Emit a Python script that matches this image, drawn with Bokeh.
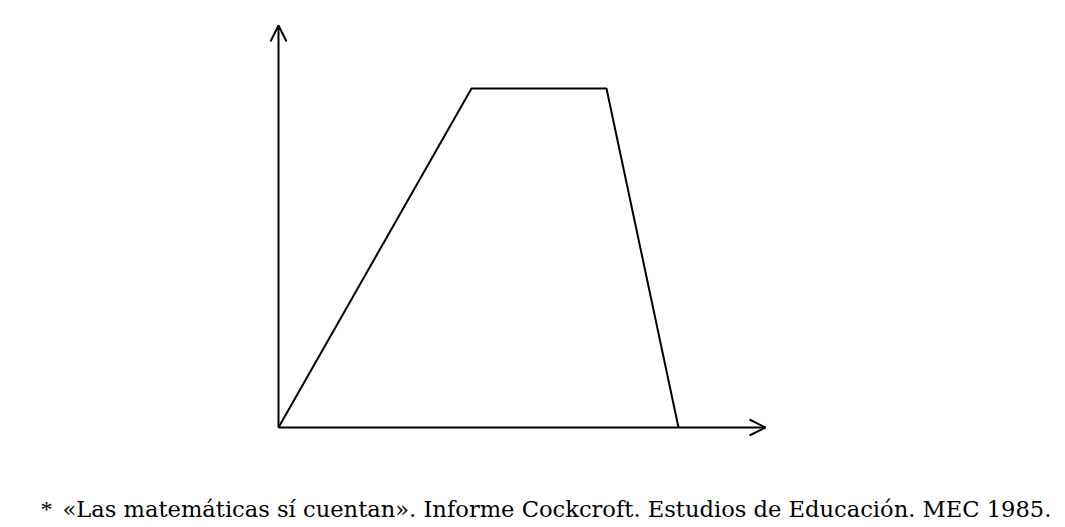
from bokeh.plotting import figure
from bokeh.models import Range1d, Arrow, OpenHead, Label
from bokeh.embed import file_html
from bokeh.resources import INLINE

# Data (abstract units)
t = [0, 4.825, 8.2, 10.0]
level = [0, 10, 10, 0]
x_axis_end = 12.175
y_axis_end = 11.86
star = "*"
footnote = "«Las matemáticas sí cuentan». Informe Cockcroft. Estudios de Educación. MEC 1985."

W, H = 1065, 527
p = figure(width=W, height=H, output_backend="svg", toolbar_location=None,
           x_range=Range1d(-6.95, 19.675), y_range=Range1d(-2.95, 12.596),
           min_border=0)
p.axis.visible = False
p.grid.visible = False
p.outline_line_color = None
p.background_fill_color = "white"
p.border_fill_color = "white"

p.line(t, level, line_color="black", line_width=2)

p.add_layout(Arrow(x_start=0, y_start=0, x_end=x_axis_end, y_end=0,
                   line_color="black", line_width=2,
                   end=OpenHead(size=16, line_color="black", line_width=2)))
p.add_layout(Arrow(x_start=0, y_start=0, x_end=0, y_end=y_axis_end,
                   line_color="black", line_width=2,
                   end=OpenHead(size=16, line_color="black", line_width=2)))

p.add_layout(Label(x=40, y=19, x_units="screen", y_units="screen", text=star,
                   text_font="Liberation Serif", text_font_size="24px",
                   text_color="black", text_baseline="alphabetic"))
p.add_layout(Label(x=62, y=19, x_units="screen", y_units="screen", text=footnote,
                   text_font="DejaVu Serif", text_font_size="22.6px",
                   text_color="black", text_baseline="alphabetic"))

open("out.html", "w").write(file_html(p, INLINE))
